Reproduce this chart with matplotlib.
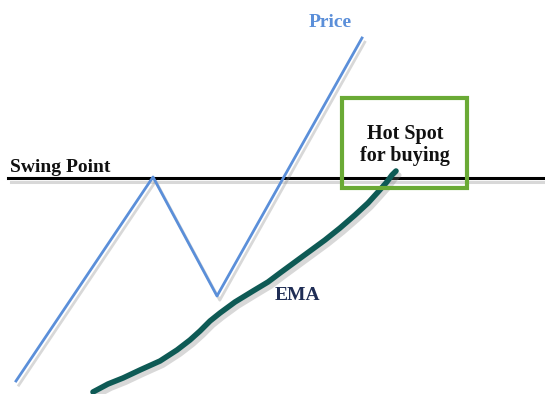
import matplotlib.pyplot as plt
import matplotlib.patheffects as pe
from matplotlib.patches import Rectangle

# price zigzag (x, y in picture units, y grows downward)
price_x = [16, 153, 217, 362]
price_y = [381, 177, 296, 38]

# EMA curve
ema_x = [93, 108, 123, 140, 160, 177, 190, 200, 210, 220, 235, 253, 268, 280, 295, 310, 325, 340, 355, 368, 378, 386, 392, 396]
ema_y = [392, 384, 378, 370, 361, 350, 340, 331, 321, 313, 302, 291, 282, 273, 262, 251, 240, 228, 215, 203, 192, 183, 175, 171]

swing_level = 178
box = [342, 98, 467, 188]  # left, top, right, bottom

shadow = [pe.SimpleLineShadow(offset=(2, -3), shadow_color='gray', alpha=0.3), pe.Normal()]
serif = ['Liberation Serif', 'DejaVu Serif']

fig = plt.figure(figsize=(5.45, 3.94), dpi=100)
ax = fig.add_axes([0, 0, 1, 1])
ax.set_xlim(0, 545)
ax.set_ylim(394, 0)
ax.axis('off')

ax.plot([8, 545], [swing_level, swing_level], color='black', lw=2.2, path_effects=shadow, zorder=2)
ax.plot(price_x, price_y, color='#5b8fd9', lw=2, path_effects=shadow, zorder=3)
ax.plot(ema_x, ema_y, color='#0e5a55', lw=4, solid_capstyle='round', solid_joinstyle='round',
        path_effects=shadow, zorder=4)

ax.add_patch(Rectangle((box[0], box[1]), box[2] - box[0], box[3] - box[1],
                       fill=False, edgecolor='#6aaa35', lw=3, zorder=5))

ax.text(10, 172, 'Swing Point', family=serif, fontsize=14, fontweight='bold', color='#111111', va='baseline')
ax.text(330, 22, 'Price', family=serif, fontsize=14, fontweight='bold', color='#5b8fd9', ha='center', va='center')
ax.text(297, 296, 'EMA', family=serif, fontsize=14, fontweight='bold', color='#1f2d55', ha='center', va='center')
ax.text(405, 145, 'Hot Spot\nfor buying', family=serif, fontsize=14.5, fontweight='bold', color='#111111',
        ha='center', va='center', linespacing=1.15)

plt.savefig('out.png')
